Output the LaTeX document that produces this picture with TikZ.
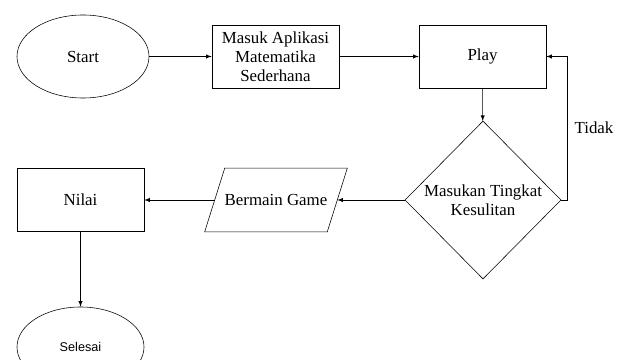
\documentclass[tikz,border=0pt]{standalone}
\usepackage{fontspec}
\setmainfont{Liberation Serif}
\setsansfont{Liberation Sans}
\usetikzlibrary{calc,arrows,shapes.geometric}

\begin{document}
\begin{tikzpicture}[x=0.025cm,y=-0.025cm,font=\fontsize{12}{13.5}\selectfont,
                    proses/.style={draw,rectangle,minimum width=3.175cm,minimum height=1.575cm,align=center,inner sep=1pt},
                    oval/.style={draw,ellipse,minimum width=3.3cm,minimum height=2.075cm,inner sep=0pt},
                    panah/.style={-latex,black}]
                      \useasboundingbox (0,0) rectangle (627,360);
                      \node[oval](start)at(83,56.5){Start};
                      \node[proses](masuk)at(275.5,56.5){Masuk Aplikasi\\Matematika\\Sederhana};
                      \node[proses](play)at(482.5,56.5){Play};
                      \node[draw,diamond,aspect=1,minimum width=3.9cm,minimum height=3.95cm,align=center,inner sep=0pt](tingkat)at(483,200){Masukan Tingkat\\Kesulitan};
                      \node[minimum width=3.05cm,minimum height=1.575cm,inner sep=0pt](game)at(276,200){Bermain Game};
                      \draw($(game.north west)+(10,0)$)--($(game.north east)+(10,0)$)--($(game.south east)+(-10,0)$)--($(game.south west)+(-10,0)$)--cycle;
                      \node[proses](nilai)at(80.5,200){Nilai};
                      \node[oval,minimum width=3.175cm,minimum height=2cm,font=\sffamily\fontsize{9}{10}\selectfont](selesai)at(80.5,347){Selesai};
                      \node(tidak)at(594,128){Tidak};
                      \draw[panah](start)--(masuk);
                      \draw[panah](masuk)--(play);
                      \draw[panah](play)--(tingkat);
                      \draw[panah](tingkat)--(game);
                      \draw[panah](game)--(nilai);
                      \draw[panah](nilai)--(selesai);
                      \draw[panah](tingkat.east)--++(6,0)|-(play.east);
                  \end{tikzpicture}
\end{document}
